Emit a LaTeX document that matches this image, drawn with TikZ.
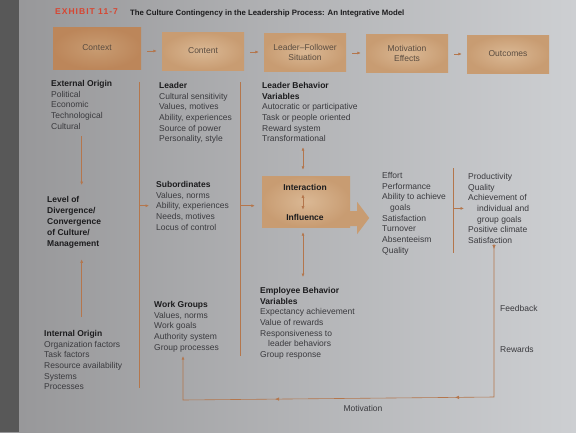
\documentclass[tikz,border=0pt]{standalone}
\usepackage{fontspec}
\setmainfont{Liberation Sans}
\usetikzlibrary{arrows.meta,decorations.markings}
\definecolor{pageL}{RGB}{150,150,152}
\definecolor{pageR}{RGB}{205,207,210}
\definecolor{spine}{RGB}{88,88,88}
\definecolor{boxtan}{RGB}{200,156,114}
\definecolor{boxlight}{RGB}{218,184,148}
\definecolor{boxdeep}{RGB}{188,134,90}
\definecolor{hdrtext}{RGB}{90,76,64}
\definecolor{bodytext}{RGB}{58,58,62}
\definecolor{headtext}{RGB}{28,28,30}
\definecolor{linebrown}{RGB}{180,118,76}
\definecolor{exred}{RGB}{214,70,50}

\tikzset{
  hdrbox/.style={shade, inner color=boxlight, outer color=boxtan, text=hdrtext,
    minimum width=82pt, minimum height=38pt, align=center, inner sep=1pt,
    font=\fontsize{8.5}{10}\selectfont},
  coltext/.style={anchor=north west, inner sep=0pt, align=left, text=bodytext,
    font=\fontsize{8.5}{10.7}\selectfont},
  colhead/.style={coltext, text=headtext, font=\bfseries\fontsize{8.5}{11}\selectfont},
  lnk/.style={draw=linebrown, line width=0.6pt},
  arr/.style={lnk, -{Latex[length=3.5pt,width=3pt]}},
  dblarr/.style={lnk, {Latex[length=3.5pt,width=3pt]}-{Latex[length=3.5pt,width=3pt]}},
}
\newcommand{\hd}[1]{\textcolor{headtext}{\bfseries #1}}

\begin{document}
\begin{tikzpicture}[x=1pt, y=-1pt]
\useasboundingbox (0,0) rectangle (576,432);
% page background
\shade[left color=pageL, right color=pageR] (0,0) rectangle (576,432);
\fill[spine] (0,0) rectangle (19,432);

% title
\node[anchor=west, inner sep=0pt, text=exred, font=\bfseries\fontsize{8.5}{9}\selectfont\addfontfeature{LetterSpace=12}] (exh) at (55,12) {EXHIBIT 11-7};
\node[anchor=west, inner sep=0pt, text=headtext, font=\bfseries\fontsize{7.8}{9}\selectfont] (title) at (130,13)
  {The Culture Contingency in the Leadership Process: An Integrative Model};

% header row
\node[hdrbox, inner color=boxtan, outer color=boxdeep, minimum width=88pt, minimum height=42pt] (ctx1) at (97,48) {Context};
\node[hdrbox] (ctx2) at (203,51) {Content};
\node[hdrbox] (sit) at (305,52) {Leader--Follower\\Situation};
\node[hdrbox] (mot) at (407,53) {Motivation\\Effects};
\node[hdrbox] (out) at (508,54) {Outcomes};

\draw[arr, shorten <=6pt, shorten >=5pt] (ctx1.east |- ctx2.west) -- (ctx2.west);
\draw[arr, shorten <=6pt, shorten >=5pt] (ctx2.east |- sit.west) -- (sit.west);
\draw[arr, shorten <=6pt, shorten >=5pt] (sit.east |- mot.west) -- (mot.west);
\draw[arr, shorten <=6pt, shorten >=5pt] (mot.east |- out.west) -- (out.west);

% column separators
\coordinate (s1top) at (139,82);
\coordinate (s1bot) at (139,388);
\coordinate (s2top) at (240,82);
\coordinate (s2bot) at (240,356);
\coordinate (s3top) at (453,168);
\coordinate (s3bot) at (453,253);
\draw[lnk] (s1top) -- (s1bot);
\draw[lnk] (s2top) -- (s2bot);
\draw[lnk] (s3top) -- (s3bot);

% context column
\node[coltext] (ext) at (51,80) {\hd{External Origin}\\Political\\Economic\\Technological\\Cultural};
\node[colhead] (lvl) at (47,196) {Level of\\Divergence/\\Convergence\\of Culture/\\Management};
\node[coltext] (int) at (44,330) {\hd{Internal Origin}\\Organization factors\\Task factors\\Resource availability\\Systems\\Processes};

\draw[arr, shorten <=7pt, shorten >=11pt] (ext.south) -- (ext.south |- lvl.north);
\draw[arr, shorten <=13pt, shorten >=11pt] (int.north -| ext.south) -- (lvl.south -| ext.south);

% content column
\node[coltext] (ldr) at (159,82) {\hd{Leader}\\Cultural sensitivity\\Values, motives\\Ability, experiences\\Source of power\\Personality, style};
\node[coltext] (sub) at (156,181) {\hd{Subordinates}\\Values, norms\\Ability, experiences\\Needs, motives\\Locus of control};
\node[coltext] (wg) at (154,301) {\hd{Work Groups}\\Values, norms\\Work goals\\Authority system\\Group processes};

\draw[arr, shorten >=7pt] (sub.west -| s1top) -- (sub.west);

% leader-follower situation
\node[coltext] (lbv) at (262,82) {\hd{Leader Behavior}\\\hd{Variables}\\Autocratic or participative\\Task or people oriented\\Reward system\\Transformational};
\node[shade, inner color=boxlight, outer color=boxtan, minimum width=88pt, minimum height=51pt] (ii) at (306,201.5) {};
\fill[boxtan] ([yshift=-9.5pt]ii.east) -- ++(7,0) -- ++(0,-9) -- ++(12,16) -- ++(-12,16) -- ++(0,-8) -- ++(-7,0) -- cycle;
\node[inner sep=0pt, text=headtext, font=\bfseries\fontsize{8.5}{10}\selectfont] (ia) at (305,187) {Interaction};
\node[inner sep=0pt, text=headtext, font=\bfseries\fontsize{8.5}{10}\selectfont] (ib) at (305,217) {Influence};
\draw[dblarr, shorten <=4pt, shorten >=4pt] (ia.south -| 303,0) -- (ib.north -| 303,0);
\node[coltext] (ebv) at (260,287) {\hd{Employee Behavior}\\\hd{Variables}\\Expectancy achievement\\Value of rewards\\Responsiveness to\\\hspace*{8pt}leader behaviors\\Group response};

\draw[arr, shorten >=7pt] (sub.east -| s2top) -- (sub.east -| ii.west);
\draw[dblarr, shorten <=5pt, shorten >=6pt] (lbv.south -| 303,0) -- (ii.north -| 303,0);
\draw[dblarr, shorten <=5pt, shorten >=10pt] (ii.south -| 303,0) -- (ebv.north -| 303,0);

% motivation effects and outcomes
\node[coltext] (eff) at (382,172) {Effort\\Performance\\Ability to achieve\\\hspace*{8pt}goals\\Satisfaction\\Turnover\\Absenteeism\\Quality};
\node[coltext] (res) at (468,173) {Productivity\\Quality\\Achievement of\\\hspace*{9pt}individual and\\\hspace*{9pt}group goals\\Positive climate\\Satisfaction};
\draw[arr, shorten >=4pt] (res.west -| s3top) -- (res.west);

% feedback loop
\coordinate (lpT) at (494,244);
\coordinate (lpR) at (494,397);
\coordinate (lpL) at (183,400);
\draw[arr, shorten >=4pt, postaction={decorate}, decoration={markings,
    mark=at position 5pt with {\arrow{Latex[length=4pt,width=3.5pt]}},
    mark=at position 192pt with {\arrow{Latex[length=4pt,width=3.5pt]}},
    mark=at position 372pt with {\arrow{Latex[length=4pt,width=3.5pt]}}}]
  (lpT) -- (lpR) -- (lpL) -- (lpL |- wg.south);
\node[coltext] (fb) at (500,305) {Feedback};
\node[coltext] (rw) at (500,346) {Rewards};
\node[coltext, anchor=north] (mv) at (363,405) {Motivation};
\end{tikzpicture}
\end{document}
